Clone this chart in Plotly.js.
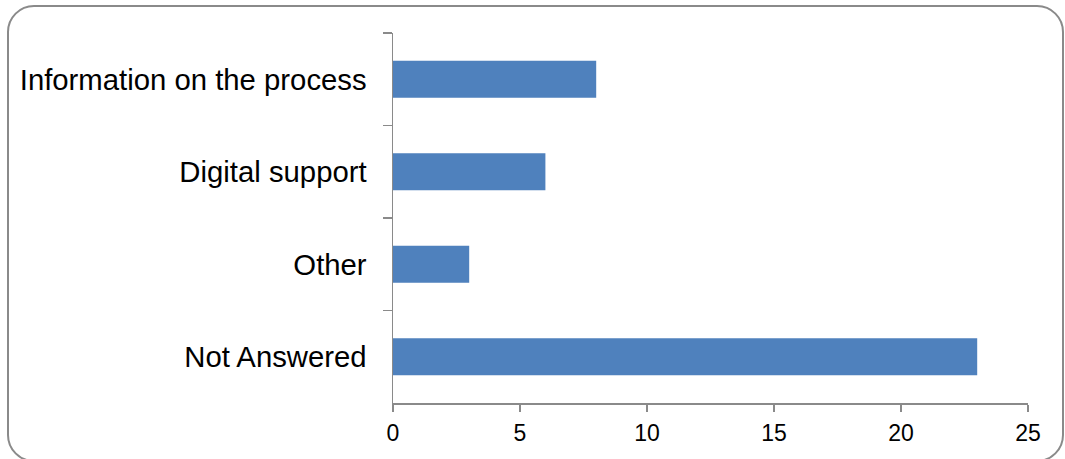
<!DOCTYPE html>
<html>
<head>
<meta charset="utf-8">
<script src="https://cdn.plot.ly/plotly-3.0.1.min.js"></script>
<style>
  html, body { margin: 0; padding: 0; background: #fff; }
  #wrap { position: relative; width: 1065px; height: 459px; overflow: hidden; }
  #chart { position: absolute; left: 0; top: 0; width: 1065px; height: 459px; }
  #frame { position: absolute; left: 7px; top: 5px; width: 1053px; height: 453px;
           border: 2px solid #8a8a8a; border-radius: 27px; pointer-events: none; }
</style>
</head>
<body>
<div id="wrap">
  <div id="chart"></div>
  <div id="frame"></div>
</div>
<script>
const categories = ["Information on the process", "Digital support", "Other", "Not Answered"];
const counts = [8, 6, 3, 23];
const xTicks = [0, 5, 10, 15, 20, 25];

const trace = {
  type: "bar",
  orientation: "h",
  y: categories,
  x: counts,
  marker: { color: "#4F81BD" },
  hoverinfo: "x+y"
};

const layout = {
  width: 1065,
  height: 459,
  margin: { l: 393, r: 37, t: 33, b: 56, pad: 0 },
  paper_bgcolor: "rgba(0,0,0,0)",
  plot_bgcolor: "rgba(0,0,0,0)",
  showlegend: false,
  bargap: 0.6,
  font: { family: "Liberation Sans, Arial, sans-serif", color: "#000" },
  xaxis: {
    range: [0, 25],
    tickvals: xTicks,
    ticktext: xTicks.map(String),
    showgrid: false,
    zeroline: false,
    showline: true,
    linecolor: "#8a8a8a",
    linewidth: 1.5,
    ticks: "outside",
    ticklen: 7,
    tickwidth: 1.5,
    tickcolor: "#8a8a8a",
    ticklabelstandoff: 2,
    tickfont: { size: 23, color: "#000" }
  },
  yaxis: {
    type: "category",
    autorange: "reversed",
    showgrid: false,
    zeroline: false,
    showline: true,
    linecolor: "#8a8a8a",
    linewidth: 1.5,
    ticks: "outside",
    tickson: "boundaries",
    ticklen: 9,
    tickwidth: 1.5,
    tickcolor: "#8a8a8a",
    ticklabelstandoff: 19,
    tickfont: { size: 29.3, color: "#000" }
  }
};

Plotly.newPlot("chart", [trace], layout, { staticPlot: true, displayModeBar: false });
</script>
</body>
</html>
